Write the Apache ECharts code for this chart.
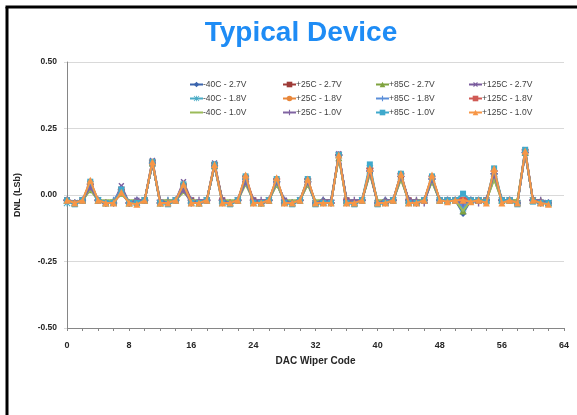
<!DOCTYPE html>
<html><head><meta charset="utf-8">
<script src="https://cdn.jsdelivr.net/npm/echarts@6/dist/echarts.min.js"></script>
<style>html,body{margin:0;padding:0;background:#fff}#c{width:577px;height:415px}</style>
</head><body><div id="c"></div>
<script>
const codes = Array.from({length:63},(_,i)=>i);
const seriesNames = ['-40C - 2.7V','+25C - 2.7V','+85C - 2.7V','+125C - 2.7V',
 '-40C - 1.8V','+25C - 1.8V','+85C - 1.8V','+125C - 1.8V',
 '-40C - 1.0V','+25C - 1.0V','+85C - 1.0V','+125C - 1.0V'];
const xTicks = [0,8,16,24,32,40,48,56,64];
const yTicks = [-0.5,-0.25,0,0.25,0.5];

const m40_27 = [-0.02,-0.03,-0.02,0.04, -0.02,-0.03,-0.03,0.02, -0.03,-0.02,-0.02,0.12, -0.03,-0.03,-0.02,0.03,
 -0.02,-0.03,-0.02,0.11, -0.02,-0.03,-0.02,0.06, -0.02,-0.03,-0.02,0.05, -0.02,-0.03,-0.02,0.05,
 -0.03,-0.02,-0.03,0.15, -0.02,-0.03,-0.02,0.09, -0.03,-0.02,-0.02,0.07, -0.02,-0.03,-0.02,0.06,
 -0.02,-0.02,-0.02,-0.07, -0.02,-0.02,-0.02,0.08, -0.02,-0.02,-0.03,0.16, -0.02,-0.03,-0.03];
const p25_27 = [-0.02,-0.03,-0.02,0.03, -0.02,-0.03,-0.03,0.02, -0.03,-0.03,-0.02,0.12, -0.03,-0.03,-0.02,0.03,
 -0.02,-0.03,-0.02,0.11, -0.02,-0.03,-0.02,0.05, -0.02,-0.03,-0.02,0.05, -0.03,-0.03,-0.02,0.05,
 -0.03,-0.03,-0.03,0.15, -0.02,-0.03,-0.02,0.09, -0.03,-0.03,-0.02,0.07, -0.02,-0.03,-0.02,0.06,
 -0.02,-0.02,-0.02,-0.04, -0.02,-0.02,-0.02,0.07, -0.02,-0.02,-0.03,0.16, -0.02,-0.03,-0.03];
const p85_27 = [-0.02,-0.03,-0.02,0.02, -0.02,-0.03,-0.02,0.01, -0.03,-0.02,-0.02,0.12, -0.03,-0.02,-0.02,0.02,
 -0.02,-0.03,-0.02,0.11, -0.02,-0.03,-0.02,0.05, -0.02,-0.03,-0.02,0.04, -0.02,-0.03,-0.02,0.04,
 -0.03,-0.02,-0.02,0.14, -0.02,-0.03,-0.02,0.08, -0.03,-0.02,-0.02,0.06, -0.02,-0.02,-0.02,0.05,
 -0.02,-0.02,-0.02,-0.06, -0.02,-0.02,-0.02,0.06, -0.02,-0.02,-0.02,0.16, -0.02,-0.02,-0.03];
const p125_27 = [-0.02,-0.03,-0.02,0.03, -0.02,-0.03,-0.03,0.035, -0.03,-0.02,-0.02,0.13, -0.03,-0.03,-0.02,0.05,
 -0.02,-0.03,-0.02,0.12, -0.02,-0.03,-0.02,0.06, -0.02,-0.03,-0.02,0.05, -0.02,-0.03,-0.02,0.05,
 -0.03,-0.03,-0.03,0.155, -0.02,-0.03,-0.02,0.09, -0.03,-0.03,-0.02,0.07, -0.02,-0.03,-0.02,0.06,
 -0.02,-0.02,-0.02,-0.03, -0.02,-0.02,-0.02,0.08, -0.02,-0.02,-0.03,0.17, -0.02,-0.03,-0.03];
const m40_18 = [-0.03,-0.03,-0.02,0.04, -0.02,-0.03,-0.03,0.02, -0.03,-0.03,-0.02,0.12, -0.03,-0.03,-0.02,0.03,
 -0.03,-0.03,-0.02,0.11, -0.03,-0.03,-0.02,0.06, -0.03,-0.03,-0.02,0.05, -0.03,-0.03,-0.02,0.05,
 -0.03,-0.03,-0.03,0.15, -0.03,-0.03,-0.02,0.10, -0.03,-0.03,-0.02,0.07, -0.03,-0.03,-0.02,0.06,
 -0.02,-0.02,-0.02,-0.05, -0.02,-0.02,-0.02,0.08, -0.02,-0.02,-0.03,0.16, -0.02,-0.03,-0.03];
const p25_18 = [-0.02,-0.03,-0.02,0.05, -0.02,-0.03,-0.03,0.01, -0.03,-0.03,-0.02,0.12, -0.03,-0.03,-0.02,0.04,
 -0.03,-0.03,-0.02,0.11, -0.03,-0.03,-0.02,0.07, -0.03,-0.03,-0.02,0.06, -0.03,-0.03,-0.02,0.06,
 -0.03,-0.03,-0.03,0.15, -0.03,-0.03,-0.02,0.10, -0.03,-0.03,-0.02,0.08, -0.03,-0.03,-0.02,0.07,
 -0.02,-0.02,-0.02,-0.02, -0.02,-0.02,-0.02,0.09, -0.02,-0.02,-0.03,0.16, -0.02,-0.03,-0.03];
const p85_18 = [-0.02,-0.03,-0.02,0.03, -0.02,-0.03,-0.02,0.02, -0.03,-0.02,-0.02,0.12, -0.03,-0.02,-0.02,0.03,
 -0.02,-0.03,-0.02,0.11, -0.02,-0.03,-0.02,0.06, -0.02,-0.03,-0.02,0.05, -0.02,-0.03,-0.02,0.05,
 -0.03,-0.02,-0.03,0.15, -0.02,-0.03,-0.02,0.09, -0.03,-0.02,-0.02,0.07, -0.02,-0.03,-0.02,0.06,
 -0.02,-0.02,-0.02,-0.04, -0.02,-0.02,-0.02,0.08, -0.02,-0.02,-0.03,0.16, -0.02,-0.03,-0.03];
const p125_18 = [-0.02,-0.03,-0.02,0.04, -0.02,-0.03,-0.03,0.02, -0.03,-0.03,-0.02,0.13, -0.03,-0.03,-0.02,0.04,
 -0.02,-0.03,-0.02,0.12, -0.02,-0.03,-0.02,0.07, -0.02,-0.03,-0.02,0.06, -0.03,-0.03,-0.02,0.06,
 -0.03,-0.03,-0.03,0.15, -0.02,-0.03,-0.02,0.10, -0.03,-0.03,-0.02,0.08, -0.02,-0.03,-0.02,0.07,
 -0.02,-0.02,-0.02,-0.01, -0.02,-0.02,-0.02,0.09, -0.02,-0.02,-0.03,0.17, -0.02,-0.03,-0.03];
const m40_10 = [-0.02,-0.03,-0.02,0.02, -0.02,-0.02,-0.02,0.00, -0.02,-0.02,-0.02,0.12, -0.02,-0.02,-0.02,0.01,
 -0.02,-0.02,-0.02,0.11, -0.02,-0.02,-0.02,0.04, -0.02,-0.02,-0.02,0.04, -0.02,-0.02,-0.02,0.04,
 -0.02,-0.02,-0.02,0.14, -0.02,-0.02,-0.02,0.08, -0.02,-0.02,-0.02,0.06, -0.02,-0.02,-0.02,0.05,
 -0.02,-0.02,-0.02,-0.06, -0.02,-0.02,-0.02,0.06, -0.02,-0.02,-0.02,0.16, -0.02,-0.02,-0.03];
const p25_10 = [-0.02,-0.03,-0.02,0.03, -0.02,-0.03,-0.03,0.01, -0.03,-0.02,-0.02,0.12, -0.02,-0.03,-0.02,0.02,
 -0.03,-0.02,-0.02,0.11, -0.02,-0.03,-0.02,0.05, -0.02,-0.02,-0.02,0.05, -0.02,-0.03,-0.02,0.05,
 -0.03,-0.02,-0.02,0.15, -0.02,-0.02,-0.02,0.09, -0.03,-0.02,-0.02,0.07, -0.02,-0.02,-0.03,0.06,
 -0.02,-0.02,-0.02,-0.03, -0.02,-0.03,-0.02,0.08, -0.02,-0.02,-0.03,0.16, -0.02,-0.02,-0.03];
const p85_10 = [-0.02,-0.035,-0.02,0.05, -0.02,-0.03,-0.03,0.02, -0.03,-0.03,-0.02,0.125, -0.03,-0.035,-0.02,0.04,
 -0.03,-0.03,-0.02,0.115, -0.03,-0.035,-0.02,0.07, -0.03,-0.03,-0.02,0.06, -0.03,-0.035,-0.02,0.06,
 -0.035,-0.03,-0.03,0.15, -0.03,-0.035,-0.02,0.115, -0.035,-0.03,-0.02,0.08, -0.03,-0.03,-0.02,0.07,
 -0.02,-0.02,-0.02,0.005, -0.02,-0.02,-0.025,0.10, -0.02,-0.02,-0.035,0.17, -0.025,-0.03,-0.03];
const p125_10 = [-0.02,-0.03,-0.02,0.055, -0.02,-0.03,-0.03,0.01, -0.03,-0.035,-0.02,0.125, -0.03,-0.03,-0.02,0.04,
 -0.03,-0.03,-0.02,0.115, -0.03,-0.03,-0.02,0.075, -0.03,-0.03,-0.02,0.065, -0.03,-0.03,-0.02,0.06,
 -0.03,-0.03,-0.03,0.15, -0.03,-0.03,-0.02,0.10, -0.03,-0.03,-0.02,0.08, -0.03,-0.03,-0.02,0.075,
 -0.02,-0.025,-0.02,-0.02, -0.025,-0.02,-0.03,0.10, -0.03,-0.02,-0.03,0.165, -0.02,-0.03,-0.035];

const allData = [m40_27,p25_27,p85_27,p125_27,m40_18,p25_18,p85_18,p125_18,m40_10,p25_10,p85_10,p125_10];
const colors = ['#3B64AD','#9E3B37','#7FA33F','#7A5C9E','#4BACC6','#E8873A','#5B8FD9','#D05A55','#9BBB59','#8064A2','#3FA9CC','#F79646'];
const PLUS = 'path://M0.4,0H0.6V0.4H1V0.6H0.6V1H0.4V0.6H0V0.4H0.4Z';
const STAR = 'path://M0.43,0H0.57V1H0.43Z M0,0.43H1V0.57H0Z M0.1,0L1,0.9L0.9,1L0,0.1Z M0.9,0L1,0.1L0.1,1L0,0.9Z';
const DASH = 'path://M0,0H1V1H0Z';
const symbols = [
 {symbol:'diamond',symbolSize:7},
 {symbol:'rect',symbolSize:6},
 {symbol:'triangle',symbolSize:7},
 {symbol:PLUS,symbolSize:7,symbolRotate:45},
 {symbol:STAR,symbolSize:7},
 {symbol:'circle',symbolSize:6},
 {symbol:PLUS,symbolSize:7},
 {symbol:DASH,symbolSize:[7,2]},
 {symbol:'none',symbolSize:0},
 {symbol:PLUS,symbolSize:7},
 {symbol:'rect',symbolSize:6},
 {symbol:'triangle',symbolSize:7}
];

const series = allData.map((d,i)=>Object.assign({
  name: seriesNames[i], type:'line', data: d.map((v,j)=>[codes[j],v]),
  color: colors[i], lineStyle:{width:2,color:colors[i]}, itemStyle:{color:colors[i]},
  showSymbol: symbols[i].symbol!=='none', animation:false, z:2+i*0.01
}, symbols[i]));

const font = 'Liberation Sans, Arial, sans-serif';
const legendCols = [[0,4,8],[1,5,9],[2,6,10],[3,7,11]];
const legendLeft = [189,282,375,468];
const legends = legendCols.map((col,k)=>({
  orient:'vertical', left:legendLeft[k], top:80, padding:0, itemWidth:13, itemHeight:7, itemGap:5,
  data: col.map(i=> symbols[i].symbol==='none'
      ? {name:seriesNames[i], itemStyle:{opacity:0}}
      : seriesNames[i]),
  selectedMode:false,
  textStyle:{fontSize:8.5, color:'#404040', fontFamily:font, padding:[0,0,0,-5]}
}));

const chart = echarts.init(document.getElementById('c'));
chart.setOption({
  animation:false,
  backgroundColor:'#fff',
  title:{text:'Typical Device', left:296, textAlign:'center', top:14,
    textStyle:{fontSize:28, fontWeight:'bold', color:'#1E8CF5', fontFamily:font}},
  legend: legends,
  grid:{left:67, right:13, top:62, bottom:87},
  xAxis:{type:'value', min:0, max:64, interval:2,
    name:'DAC Wiper Code', nameLocation:'middle', nameGap:28,
    nameTextStyle:{fontSize:10, fontWeight:'bold', color:'#262626', fontFamily:font},
    axisLine:{show:true, onZero:false, lineStyle:{color:'#868686', width:1}},
    axisTick:{show:true, length:3, lineStyle:{color:'#868686'}},
    axisLabel:{fontSize:9, fontWeight:'bold', color:'#262626', fontFamily:font, margin:13,
      formatter:v=> xTicks.indexOf(v)>=0 ? String(v) : ''},
    splitLine:{show:false}},
  yAxis:{type:'value', min:-0.5, max:0.5, interval:0.25,
    name:'DNL (LSb)', nameLocation:'middle', nameGap:45, nameRotate:90,
    nameTextStyle:{fontSize:9, fontWeight:'bold', color:'#262626', fontFamily:font},
    axisLine:{show:true, lineStyle:{color:'#868686', width:1}},
    axisTick:{show:true, length:3, lineStyle:{color:'#d9d9d9'}},
    axisLabel:{fontSize:8.5, fontWeight:'bold', color:'#262626', fontFamily:font, margin:10,
      formatter:v=>{ const t = yTicks.find(y=>Math.abs(y-v)<1e-9); return (t===undefined?v:t).toFixed(2);} },
    splitLine:{show:true, lineStyle:{color:'#d9d9d9', width:1}}},
  graphic:[
    {type:'line', shape:{x1:7, y1:7, x2:7, y2:415}, style:{stroke:'#000', lineWidth:3}},
    {type:'line', shape:{x1:5.5, y1:7, x2:577, y2:7}, style:{stroke:'#000', lineWidth:3}}
  ],
  series: series
});
</script></body></html>
